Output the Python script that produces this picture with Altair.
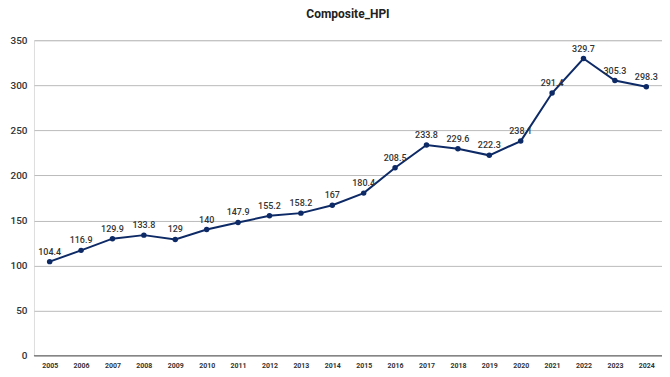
import altair as alt
import pandas as pd

years = [str(y) for y in range(2005, 2025)]
values = [104.4, 116.9, 129.9, 133.8, 129, 140, 147.9, 155.2, 158.2, 167,
          180.4, 208.5, 233.8, 229.6, 222.3, 238.1, 291.4, 329.7, 305.3, 298.3]
labels = ["104.4", "116.9", "129.9", "133.8", "129", "140", "147.9", "155.2", "158.2", "167",
          "180.4", "208.5", "233.8", "229.6", "222.3", "238.1", "291.4", "329.7", "305.3", "298.3"]

df = pd.DataFrame({"year": years, "value": values, "label": labels})

font = "Roboto"
navy = "#0d2a66"

x = alt.X("year:O", sort=years, title=None,
          scale=alt.Scale(padding=0.5),
          axis=alt.Axis(labelAngle=0, labelFontSize=7, labelFontWeight="bold", labelColor="#333333",
                        ticks=False, domain=False, labelPadding=6, labelFont=font))
y = alt.Y("value:Q", title=None,
          scale=alt.Scale(domain=[0, 350], nice=False),
          axis=alt.Axis(values=[0, 50, 100, 150, 200, 250, 300, 350], labelFontSize=10,
                        labelFontWeight=500,
                        labelColor="#333333", ticks=False, domain=False, labelPadding=7,
                        gridColor="#bbbbbb", gridWidth=1, labelFont=font))

base = alt.Chart(df).encode(x=x, y=y)

line = base.mark_line(color=navy, strokeWidth=2)
pts = base.mark_circle(color=navy, size=30, opacity=1)
txt = base.mark_text(dy=-10, fontSize=9, fontWeight=500, color="#333333", font=font).encode(text="label:N")

zero = alt.Chart(pd.DataFrame({"v": [0]})).mark_rule(color="#666666", strokeWidth=1).encode(y="v:Q")

chart = alt.layer(zero, line, pts, txt).properties(
    width=629, height=316,
    title=alt.TitleParams("Composite_HPI", fontSize=12, fontWeight="bold", font=font,
                          color="#222222", anchor="middle", offset=14),
    autosize=alt.AutoSizeParams(type="none"),
    padding={"left": 26, "top": 32, "right": 0, "bottom": 20},
).configure_view(stroke=None).configure(background="white")

chart.save("out.html", embed_options={"renderer": "svg", "actions": False})
